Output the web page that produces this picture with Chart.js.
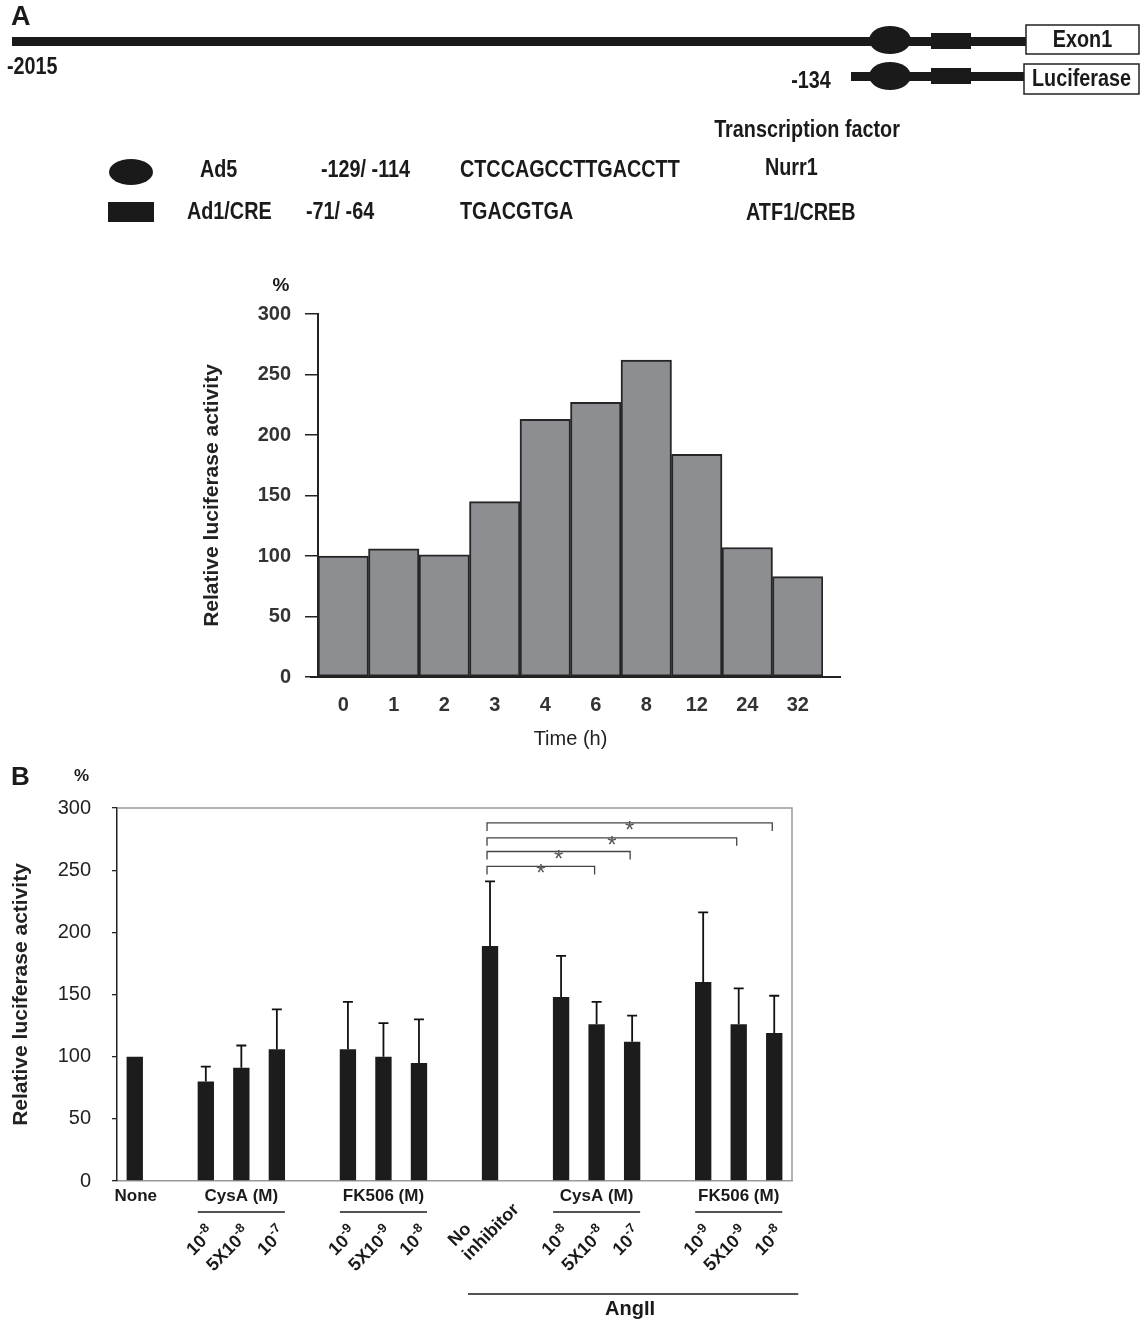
<!DOCTYPE html>
<html>
<head>
<meta charset="utf-8">
<script src="https://cdn.jsdelivr.net/npm/chart.js@4.4.1/dist/chart.umd.min.js"></script>
<style>
  body { margin: 0; background: #fff; }
  canvas { position: absolute; left: 0; }
  #chartA { top: 0; }
  #chartB { top: 760px; }
</style>
</head>
<body>
<canvas id="chartA" width="1141" height="760"></canvas>
<canvas id="chartB" width="1141" height="561"></canvas>
<script>
// panel A: time course
const timeLabels = ['0', '1', '2', '3', '4', '6', '8', '12', '24', '32'];
const timeValues = [100, 106, 101, 145, 213, 227, 262, 184, 107, 83];

// panel B: inhibitors, one slot per category, blanks are the gaps between groups
const treatSlots = ['None', 'g1', 'C1', 'C2', 'C3', 'g2', 'F1', 'F2', 'F3', 'g3',
                    'NoInh', 'g4', 'AC1', 'AC2', 'AC3', 'g5', 'AF1', 'AF2', 'AF3'];
const treatMeans = [100, null, 80, 91, 106, null, 106, 100, 95, null,
                    189, null, 148, 126, 112, null, 160, 126, 119];
const treatErrors = [0, null, 12, 18, 32, null, 38, 27, 35, null,
                     52, null, 33, 18, 21, null, 56, 29, 30];
const doseBase = ['', '', '10', '5X10', '10', '', '10', '5X10', '10', '',
                  '', '', '10', '5X10', '10', '', '10', '5X10', '10'];
const doseExp = ['', '', '-8', '-8', '-7', '', '-9', '-9', '-8', '',
                 '', '', '-8', '-8', '-7', '', '-9', '-9', '-8'];
const groups = [
  { text: 'CysA (M)', from: 2, to: 4 },
  { text: 'FK506 (M)', from: 6, to: 8 },
  { text: 'CysA (M)', from: 12, to: 14 },
  { text: 'FK506 (M)', from: 16, to: 18 }
];
// [from slot, to slot, bracket height in %]
const sigPairs = [[10, 13, 253], [10, 14, 265], [10, 17, 276], [10, 18, 288]];

const FAM = '"Liberation Sans", Arial, sans-serif';
const bold = (s) => 'bold ' + s + 'px ' + FAM;

function ellipse(ctx, x, y, rx, ry) {
  ctx.beginPath();
  ctx.ellipse(x, y, rx, ry, 0, 0, Math.PI * 2);
  ctx.fill();
}

// narrow, tall bold text like the figure's condensed face
function ntext(ctx, txt, x, y, size, align) {
  ctx.save();
  ctx.translate(x, y);
  ctx.scale(0.86, 1);
  ctx.font = bold(size);
  ctx.textAlign = align || 'left';
  ctx.fillText(txt, 0, 0);
  ctx.restore();
}

function boxText(ctx, x, y, w, h, txt) {
  ctx.fillStyle = '#fff';
  ctx.fillRect(x, y, w, h);
  ctx.lineWidth = 1.5;
  ctx.strokeStyle = '#222';
  ctx.strokeRect(x, y, w, h);
  ctx.fillStyle = '#1a1a1a';
  ntext(ctx, txt, x + w / 2, y + h / 2 + 1, 23, 'center');
}

const diagramPlugin = {
  id: 'diagram',
  afterDraw(chart) {
    const ctx = chart.ctx;
    ctx.save();
    ctx.fillStyle = '#1a1a1a';
    ctx.textBaseline = 'middle';
    ctx.font = bold(27);
    ctx.textAlign = 'left';
    ctx.fillText('A', 11, 18);

    // promoter
    ctx.fillRect(12, 37, 1015, 9);
    ellipse(ctx, 890, 40, 21, 14);
    ctx.fillRect(931, 33, 40, 16);
    boxText(ctx, 1026, 25, 113, 29, 'Exon1');
    ntext(ctx, '-2015', 7, 68, 23);

    // reporter construct
    ctx.fillRect(851, 72, 176, 9);
    ellipse(ctx, 890, 76, 21, 14);
    ctx.fillRect(931, 68, 40, 16);
    boxText(ctx, 1024, 64, 115, 30, 'Luciferase');
    ntext(ctx, '-134', 811, 82, 23, 'center');

    // element table
    ntext(ctx, 'Transcription factor', 807, 131, 23, 'center');
    ellipse(ctx, 131, 172, 22, 13);
    ctx.fillRect(108, 202, 46, 20);
    ntext(ctx, 'Ad5', 200, 171, 23);
    ntext(ctx, '-129/ -114', 321, 171, 23);
    ntext(ctx, 'CTCCAGCCTTGACCTT', 460, 171, 23);
    ntext(ctx, 'Nurr1', 765, 169, 23);
    ntext(ctx, 'Ad1/CRE', 187, 213, 23);
    ntext(ctx, '-71/ -64', 306, 213, 23);
    ntext(ctx, 'TGACGTGA', 460, 213, 23);
    ntext(ctx, 'ATF1/CREB', 746, 214, 23);

    // % over the axis and long baseline
    ctx.textAlign = 'center';
    ctx.font = bold(19);
    ctx.fillText('%', 281, 286);
    const y0 = chart.scales.y.getPixelForValue(0);
    ctx.strokeStyle = '#222';
    ctx.lineWidth = 2;
    ctx.beginPath();
    ctx.moveTo(chart.chartArea.left - 8, y0);
    ctx.lineTo(841, y0);
    ctx.stroke();
    ctx.restore();
  }
};

new Chart(document.getElementById('chartA'), {
  type: 'bar',
  data: {
    labels: timeLabels,
    datasets: [{
      data: timeValues,
      backgroundColor: '#8d8e92',
      borderColor: '#262626',
      borderWidth: 2,
      borderSkipped: false,
      barPercentage: 1,
      categoryPercentage: 1
    }]
  },
  options: {
    responsive: false,
    animation: false,
    layout: { padding: { left: 200, right: 318, top: 314, bottom: 11 } },
    plugins: { legend: { display: false }, tooltip: { enabled: false } },
    scales: {
      x: {
        grid: { display: false, drawTicks: false },
        border: { color: '#222', width: 2 },
        ticks: { color: '#333', font: { size: 20, weight: 'bold', family: FAM }, padding: 16 },
        title: { display: true, text: 'Time (h)', color: '#222', padding: 0,
                 font: { size: 20, family: FAM, lineHeight: 1 } },
        afterFit(s) { s.height = 72; }
      },
      y: {
        min: 0, max: 300,
        grid: { drawOnChartArea: false, tickLength: 13, color: '#222', lineWidth: 1.5 },
        border: { color: '#222', width: 2 },
        ticks: { stepSize: 50, color: '#333', padding: 14, font: { size: 20, weight: 'bold', family: FAM } },
        title: { display: true, text: 'Relative luciferase activity', color: '#222', padding: { top: 2 },
                 font: { size: 21, weight: 'bold', family: FAM, lineHeight: 1 } },
        afterFit(s) { s.width = 118; }
      }
    }
  },
  plugins: [diagramPlugin]
});

function drawDose(ctx, x, y, base, exp) {
  ctx.save();
  ctx.translate(x, y);
  ctx.rotate(-Math.PI / 4);
  ctx.font = bold(18);
  const wb = ctx.measureText(base).width;
  ctx.font = bold(13);
  const we = ctx.measureText(exp).width;
  ctx.textAlign = 'left';
  ctx.textBaseline = 'alphabetic';
  ctx.font = bold(18);
  ctx.fillText(base, -wb - we, 0);
  ctx.font = bold(13);
  ctx.fillText(exp, -we, -8);
  ctx.restore();
}

const annotatePlugin = {
  id: 'annotate',
  afterDatasetsDraw(chart) {
    const ctx = chart.ctx;
    const xs = chart.scales.x, ys = chart.scales.y;
    const area = chart.chartArea;
    ctx.save();
    // frame top/right
    ctx.strokeStyle = '#9a9a9a';
    ctx.lineWidth = 1.5;
    ctx.beginPath();
    ctx.moveTo(area.left, area.top);
    ctx.lineTo(area.right, area.top);
    ctx.lineTo(area.right, area.bottom);
    ctx.stroke();

    // error bars
    const meta = chart.getDatasetMeta(0);
    ctx.strokeStyle = '#111';
    ctx.lineWidth = 1.8;
    treatMeans.forEach((m, i) => {
      if (m === null || !treatErrors[i]) return;
      const x = meta.data[i].x;
      const yTop = ys.getPixelForValue(m + treatErrors[i]);
      ctx.beginPath();
      ctx.moveTo(x, ys.getPixelForValue(m));
      ctx.lineTo(x, yTop);
      ctx.moveTo(x - 5, yTop);
      ctx.lineTo(x + 5, yTop);
      ctx.stroke();
    });

    // significance brackets
    ctx.strokeStyle = '#444';
    ctx.lineWidth = 1.3;
    ctx.fillStyle = '#555';
    ctx.font = '24px ' + FAM;
    ctx.textAlign = 'center';
    ctx.textBaseline = 'alphabetic';
    sigPairs.forEach(([a, b, lvl]) => {
      const x1 = xs.getPixelForValue(a) - 3, x2 = xs.getPixelForValue(b) - 2;
      const y = ys.getPixelForValue(lvl);
      const drop = 8;
      ctx.beginPath();
      ctx.moveTo(x1, y + drop);
      ctx.lineTo(x1, y);
      ctx.lineTo(x2, y);
      ctx.lineTo(x2, y + drop);
      ctx.stroke();
      ctx.fillText('*', (x1 + x2) / 2, y + 15);
    });
    ctx.restore();
  },
  afterDraw(chart) {
    const ctx = chart.ctx;
    const xs = chart.scales.x;
    const base = chart.chartArea.bottom;
    ctx.save();
    ctx.fillStyle = '#1a1a1a';
    ctx.strokeStyle = '#1a1a1a';
    ctx.textBaseline = 'middle';
    ctx.textAlign = 'left';
    ctx.font = bold(26);
    ctx.fillText('B', 11, 18);
    ctx.font = bold(17);
    ctx.fillText('%', 74, 16);

    ctx.textAlign = 'center';
    ctx.fillText('None', xs.getPixelForValue(0) + 1, base + 15);
    ctx.lineWidth = 1.5;
    groups.forEach(g => {
      const a = xs.getPixelForValue(g.from), b = xs.getPixelForValue(g.to);
      ctx.fillText(g.text, (a + b) / 2, base + 15);
      ctx.beginPath();
      ctx.moveTo(a - 8, base + 31);
      ctx.lineTo(b + 8, base + 31);
      ctx.stroke();
    });

    doseBase.forEach((b, i) => {
      if (!b) return;
      drawDose(ctx, xs.getPixelForValue(i) + 10, base + 53, b, doseExp[i]);
    });

    // "No inhibitor" rotated on two lines
    const xn = xs.getPixelForValue(10);
    ctx.save();
    ctx.translate(xn - 35, base + 66);
    ctx.rotate(-Math.PI / 4);
    ctx.font = bold(18);
    ctx.textAlign = 'left';
    ctx.textBaseline = 'alphabetic';
    ctx.fillText('No', 0, 0);
    ctx.fillText('inhibitor', 0, 20);
    ctx.restore();

    // AngII bracket
    const a = xs.getPixelForValue(10) - 22, b = xs.getPixelForValue(18) + 24;
    ctx.beginPath();
    ctx.moveTo(a, base + 113);
    ctx.lineTo(b, base + 113);
    ctx.stroke();
    ctx.font = bold(20);
    ctx.textAlign = 'center';
    ctx.fillText('AngII', 630, base + 128);
    ctx.restore();
  }
};

new Chart(document.getElementById('chartB'), {
  type: 'bar',
  data: {
    labels: treatSlots,
    datasets: [{
      data: treatMeans,
      backgroundColor: '#1c1c1c',
      borderWidth: 0,
      barPercentage: 0.46,
      categoryPercentage: 1
    }]
  },
  options: {
    responsive: false,
    animation: false,
    layout: { padding: { left: 0, right: 349, top: 48, bottom: 0 } },
    plugins: { legend: { display: false }, tooltip: { enabled: false } },
    scales: {
      x: {
        grid: { display: false, drawTicks: false },
        border: { color: '#9a9a9a', width: 1.5 },
        ticks: { display: false },
        afterFit(s) { s.height = 140; }
      },
      y: {
        min: 0, max: 300,
        grid: { drawOnChartArea: false, tickLength: 5, color: '#222', lineWidth: 1.3 },
        border: { color: '#222', width: 1.5 },
        ticks: { stepSize: 50, color: '#222', padding: 21, font: { size: 20, family: FAM } },
        title: { display: true, text: 'Relative luciferase activity', color: '#222', padding: { top: 11 },
                 font: { size: 21, weight: 'bold', family: FAM, lineHeight: 1 } },
        afterFit(s) { s.width = 117; }
      }
    }
  },
  plugins: [annotatePlugin]
});
</script>
</body>
</html>
